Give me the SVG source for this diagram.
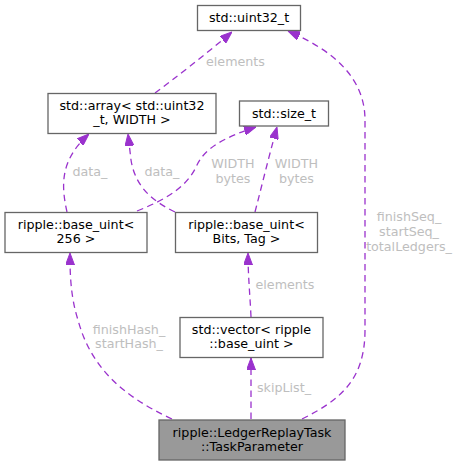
<svg xmlns="http://www.w3.org/2000/svg" width="460" height="465" viewBox="0 0 460 465">
<style>
.node rect{fill:#ffffff;stroke:#666666;stroke-width:1.3}
.main rect{fill:#999999;stroke:#666666}
.node text{font-family:"DejaVu Sans",sans-serif;font-size:12.7px;fill:#000000;text-anchor:middle}
.edge path{fill:none;stroke:#9a32cd;stroke-width:1.3;stroke-dasharray:6.5,4.5}
.lbl{font-family:"DejaVu Sans",sans-serif;font-size:12.7px;fill:#bebebe;text-anchor:middle}
</style>
<defs>
<marker id="ah" viewBox="0 0 12 9" refX="12" refY="4.5" markerWidth="12" markerHeight="9" markerUnits="userSpaceOnUse" orient="auto">
<path d="M0,0 L12,4.5 L0,9 z" fill="#9a32cd" stroke="#9a32cd" stroke-width="1"/>
</marker>
</defs>
<rect width="460" height="465" fill="#ffffff"/>
<g id="connectors" class="edge">
<path d="M155,93 C175,78 205,55 232,32" marker-end="url(#ah)"/>
<path d="M67,212 C61,185 60,160 89,134" marker-end="url(#ah)"/>
<path d="M175,212 C150,200 135,185 131,160 L128,134" marker-end="url(#ah)"/>
<path d="M137,211 C170,198 188,185 197,165 C205,148 225,137 256,127" marker-end="url(#ah)"/>
<path d="M255,212 C262,185 268,160 277,127" marker-end="url(#ah)"/>
<path d="M251,317 C250,295 248,275 248,253" marker-end="url(#ah)"/>
<path d="M172,419 C120,395 90,365 78,320 C70,295 70,270 70,253" marker-end="url(#ah)"/>
<path d="M251,419 L251,358" marker-end="url(#ah)"/>
<path d="M302,419 C340,400 365,380 365,330 L365,120 C365,70 320,45 288,31" marker-end="url(#ah)"/>
<text class="lbl" x="235.5" y="65.5">elements</text>
<text class="lbl" x="90" y="176">data_</text>
<text class="lbl" x="162" y="176">data_</text>
<text class="lbl" x="233" y="168">WIDTH</text>
<text class="lbl" x="233" y="182.5">bytes</text>
<text class="lbl" x="296.5" y="168">WIDTH</text>
<text class="lbl" x="296.5" y="182.5">bytes</text>
<text class="lbl" x="285" y="289">elements</text>
<text class="lbl" x="129" y="333.5">finishHash_</text>
<text class="lbl" x="129" y="348">startHash_</text>
<text class="lbl" x="284" y="392">skipList_</text>
<text class="lbl" x="409" y="221">finishSeq_</text>
<text class="lbl" x="409" y="236">startSeq_</text>
<text class="lbl" x="409" y="251">totalLedgers_</text>
</g>
<g id="node-uint32" class="node">
<rect x="197.5" y="5.5" width="103" height="25"/>
<text x="249" y="22">std::uint32_t</text>
</g>
<g id="node-array" class="node">
<rect x="48" y="93.5" width="168" height="40"/>
<text x="132" y="109.5">std::array&lt; std::uint32</text>
<text x="132" y="123.5">_t, WIDTH &gt;</text>
</g>
<g id="node-size_t" class="node">
<rect x="239.5" y="101" width="89" height="25"/>
<text x="284" y="117.5">std::size_t</text>
</g>
<g id="node-base_uint256" class="node">
<rect x="5" y="212.5" width="142" height="40"/>
<text x="76" y="228.5">ripple::base_uint&lt;</text>
<text x="76" y="242.5">256 &gt;</text>
</g>
<g id="node-base_uintBits" class="node">
<rect x="175.5" y="212.5" width="142" height="40"/>
<text x="246.5" y="228.5">ripple::base_uint&lt;</text>
<text x="246.5" y="242.5">Bits, Tag &gt;</text>
</g>
<g id="node-vector" class="node">
<rect x="180" y="317.5" width="143" height="40"/>
<text x="251.5" y="333.5">std::vector&lt; ripple</text>
<text x="251.5" y="347.5">::base_uint &gt;</text>
</g>
<g id="node-taskparameter" class="node main">
<rect x="159" y="420" width="186" height="40"/>
<text x="252" y="436.5">ripple::LedgerReplayTask</text>
<text x="252" y="450.5">::TaskParameter</text>
</g>
</svg>
